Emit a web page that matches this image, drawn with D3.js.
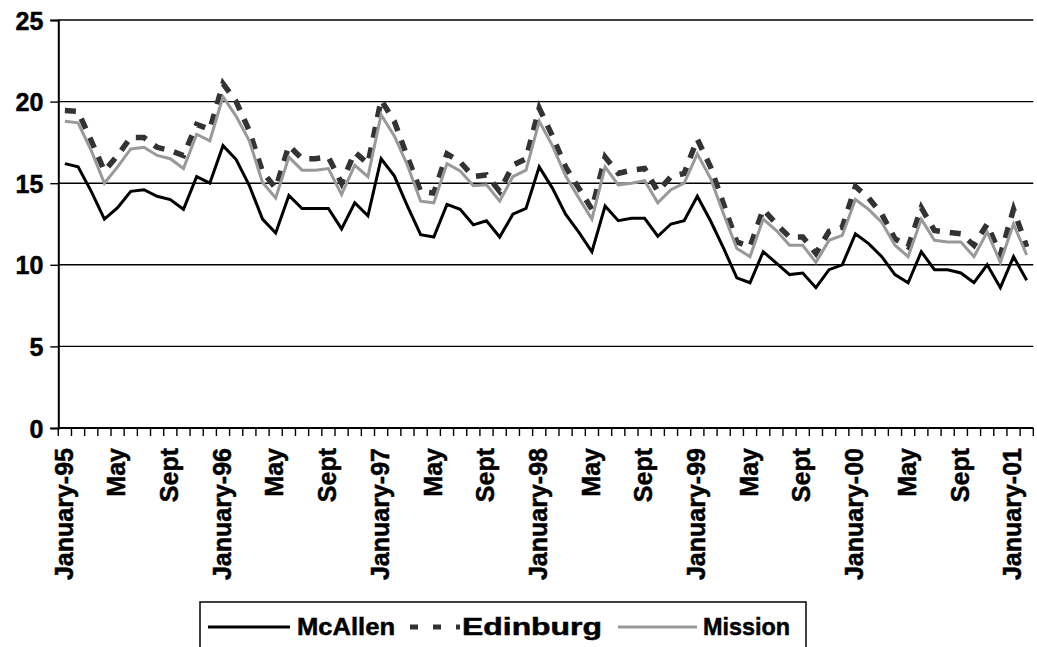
<!DOCTYPE html>
<html>
<head>
<meta charset="utf-8">
<script src="https://cdn.jsdelivr.net/npm/d3@7"></script>
<style>
    body { margin: 0; background: #fff; }
    text { font-family: "Liberation Sans", Arial, sans-serif; font-weight: bold; stroke: #000; stroke-width: 0.5px; }
</style>
</head>
<body>
<script>
const years = ["95", "96", "97", "98", "99", "00", "01"];
const monthNames = ["January", "Feb", "Mar", "Apr", "May", "June", "July", "Aug", "Sept", "Oct", "Nov", "Dec"];
const monthCount = 74; // January-95 .. February-01

const mcallen = [
    16.2, 16.0, 14.5, 12.8, 13.5, 14.5, 14.6, 14.2, 14.0, 13.4, 15.4, 15.0,
    17.3, 16.45, 14.85, 12.8, 11.95, 14.25, 13.45, 13.45, 13.45, 12.2, 13.8, 13.0,
    16.5, 15.45, 13.6, 11.85, 11.7, 13.7, 13.4, 12.45, 12.7, 11.7, 13.1, 13.45,
    16.0, 14.7, 13.1, 12.0, 10.8, 13.6, 12.7, 12.85, 12.85, 11.75, 12.5, 12.7,
    14.2, 12.7, 11.0, 9.2, 8.9, 10.8, 10.1, 9.4, 9.5, 8.6, 9.7, 10.0,
    11.9, 11.3, 10.5, 9.4, 8.9, 10.8, 9.7, 9.7, 9.5, 8.9, 10.0, 8.6,
    10.5, 9.05
];
const edinburg = [
    19.45, 19.4, 17.6, 15.75, 16.7, 17.8, 17.8, 17.2, 17.0, 16.7, 18.6, 18.3,
    21.1, 20.0, 18.2, 15.7, 14.7, 17.3, 16.5, 16.5, 16.6, 15.0, 16.9, 16.2,
    20.1, 18.8, 16.6, 14.5, 14.4, 16.8, 16.3, 15.4, 15.5, 14.5, 16.1, 16.5,
    19.6, 17.9, 16.0, 14.7, 13.4, 16.6, 15.6, 15.8, 15.9, 14.5, 15.4, 15.6,
    17.7, 16.0, 13.7, 11.4, 11.1, 13.4, 12.5, 11.7, 11.7, 10.7, 12.05, 12.3,
    14.8, 14.1, 13.1, 11.6, 11.1, 13.5, 12.1, 12.0, 11.9, 11.2, 12.5, 10.6,
    13.4, 11.1
];
const mission = [
    18.8, 18.7, 17.0, 15.0, 16.0, 17.1, 17.2, 16.7, 16.5, 15.9, 18.0, 17.6,
    20.3, 19.1, 17.6, 15.05, 14.1, 16.6, 15.8, 15.8, 15.9, 14.3, 16.1, 15.4,
    19.2, 17.9, 16.1, 13.9, 13.8, 16.2, 15.75, 14.85, 14.9, 13.9, 15.4, 15.8,
    18.8, 17.3, 15.45, 14.1, 12.8, 16.0, 14.9, 15.0, 15.15, 13.8, 14.6, 15.0,
    16.8, 15.3, 13.1, 11.0, 10.5, 12.8, 12.1, 11.2, 11.2, 10.15, 11.5, 11.8,
    14.0, 13.4, 12.6, 11.2, 10.5, 12.8, 11.5, 11.4, 11.4, 10.5, 12.0, 10.15,
    12.5, 10.6
];
const yTicks = [0, 5, 10, 15, 20, 25];

const categories = d3.range(monthCount).map(i =>
    monthNames[i % 12] + "-" + years[Math.floor(i / 12)]);
const tickText = (c, i) => i % 12 === 0 ? c : c.split("-")[0];

const series = [
    { name: "McAllen", values: mcallen, color: "#000", width: 3, dash: null },
    { name: "Edinburg", values: edinburg, color: "#333", width: 5.5, dash: "11,10" },
    { name: "Mission", values: mission, color: "#999", width: 3, dash: null }
];

const width = 1037, height = 647;
const margin = { top: 20, right: 3.7, bottom: 219, left: 58.3 };

const svg = d3.select("body").append("svg")
    .attr("width", width)
    .attr("height", height);

const x = d3.scaleBand()
    .domain(categories)
    .range([margin.left, width - margin.right])
    .padding(0);

const y = d3.scaleLinear()
    .domain([0, 25])
    .range([height - margin.bottom, margin.top]);

// gridlines
svg.append("g")
    .selectAll("line")
    .data(yTicks.slice(1))
    .enter().append("line")
    .attr("x1", margin.left)
    .attr("x2", width - margin.right)
    .attr("y1", d => y(d))
    .attr("y2", d => y(d))
    .style("stroke", "#000")
    .style("stroke-width", 1.4);

// y axis
const yAxis = svg.append("g")
    .attr("transform", "translate(" + margin.left + ",0)")
    .call(d3.axisLeft(y).tickValues(yTicks).tickSize(8).tickPadding(7));
yAxis.select(".domain").style("stroke-width", 2);
yAxis.selectAll(".tick line").style("stroke-width", 1.4);
yAxis.selectAll("text")
    .style("font-size", "25px")
    .style("fill", "#000")
    .attr("dy", "0.36em");

// x axis: tick marks between categories, labels every 4 months
const xAxisG = svg.append("g")
    .attr("transform", "translate(0," + y(0) + ")");
xAxisG.append("line")
    .attr("x1", margin.left)
    .attr("x2", width - margin.right)
    .style("stroke", "#000")
    .style("stroke-width", 2);
xAxisG.selectAll(".tk")
    .data(categories.concat(["end"]))
    .enter().append("line")
    .attr("class", "tk")
    .attr("x1", (d, i) => margin.left + i * x.step())
    .attr("x2", (d, i) => margin.left + i * x.step())
    .attr("y1", 0)
    .attr("y2", 8)
    .style("stroke", "#000")
    .style("stroke-width", 1.4);
xAxisG.selectAll(".lbl")
    .data(categories.filter((c, i) => i % 4 === 0))
    .enter().append("text")
    .attr("class", "lbl")
    .attr("transform", d => "translate(" + (x(d) + x.bandwidth() / 2 - 1) + ",20) rotate(-90)")
    .attr("dy", "0.35em")
    .style("text-anchor", "end")
    .style("font-size", "25px")
    .text(d => tickText(d, categories.indexOf(d)));

// lines
const line = d3.line()
    .x((d, i) => x(categories[i]) + x.bandwidth() / 2)
    .y(d => y(d));

svg.append("g")
    .selectAll("path")
    .data([series[1], series[2], series[0]])
    .enter().append("path")
    .attr("d", d => line(d.values))
    .style("fill", "none")
    .style("stroke", d => d.color)
    .style("stroke-width", d => d.width)
    .style("stroke-dasharray", d => d.dash)
    .style("stroke-linejoin", "miter");

// legend
const legend = svg.append("g");
legend.append("rect")
    .attr("x", 200)
    .attr("y", 602)
    .attr("width", 606)
    .attr("height", 70)
    .style("fill", "#fff")
    .style("stroke", "#000")
    .style("stroke-width", 1.5);

const legendPos = [
    { x1: 208, x2: 290, tx: 297, tw: 98 },
    { x1: 403, x2: 460, tx: 462, tw: 140 },
    { x1: 618, x2: 697, tx: 703, tw: 87 }
];
series.forEach((s, i) => {
    const p = legendPos[i];
    legend.append("line")
        .attr("x1", p.x1)
        .attr("x2", p.x2)
        .attr("y1", 627)
        .attr("y2", 627)
        .style("stroke", s.color)
        .style("stroke-width", s.dash ? 5 : 3)
        .style("stroke-dasharray", s.dash ? "8,15" : null)
        .style("stroke-dashoffset", s.dash ? -7 : null);
    legend.append("text")
        .attr("x", p.tx)
        .attr("y", 635)
        .attr("textLength", p.tw)
        .attr("lengthAdjust", "spacingAndGlyphs")
        .style("font-size", "24px")
        .text(s.name);
});
</script>
</body>
</html>
